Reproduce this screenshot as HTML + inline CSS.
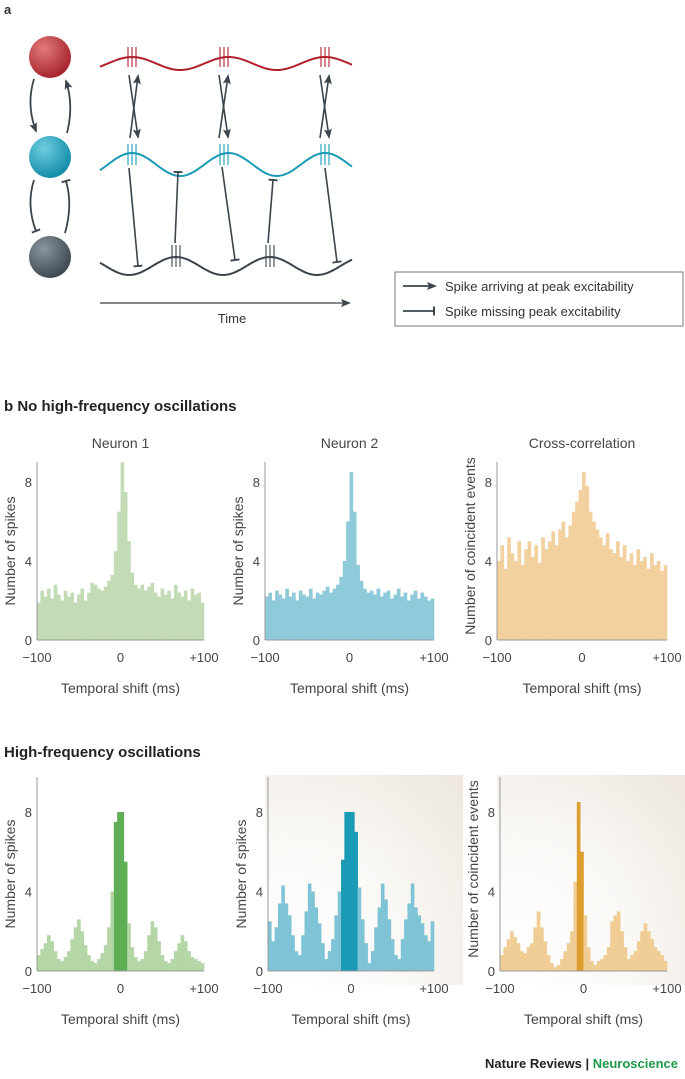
<!DOCTYPE html>
<html><head><meta charset="utf-8"><style>
html,body{margin:0;padding:0;background:#fff;}
svg{display:block;font-family:"Liberation Sans",sans-serif;}
</style></head><body>
<svg id="fig" width="685" height="1079" viewBox="0 0 685 1079">
<defs>
<radialGradient id="gr" cx="0.35" cy="0.3" r="0.75"><stop offset="0" stop-color="#e27a7a"/><stop offset="1" stop-color="#a3202a"/></radialGradient>
<radialGradient id="gc" cx="0.35" cy="0.3" r="0.75"><stop offset="0" stop-color="#6fcde0"/><stop offset="1" stop-color="#0f8aa6"/></radialGradient>
<radialGradient id="gk" cx="0.35" cy="0.3" r="0.75"><stop offset="0" stop-color="#8a969e"/><stop offset="1" stop-color="#3a454d"/></radialGradient>
<radialGradient id="bg" cx="0.1" cy="0.9" r="1.2"><stop offset="0" stop-color="#ffffff"/><stop offset="0.5" stop-color="#faf8f5"/><stop offset="1" stop-color="#ece6dd"/></radialGradient>
<marker id="ah" markerUnits="userSpaceOnUse" markerWidth="10" markerHeight="8" refX="8" refY="4" orient="auto"><path d="M0,0 L10,4 L0,8 L2,4z" fill="#3a454d"/></marker>
<marker id="tb" markerUnits="userSpaceOnUse" markerWidth="2" markerHeight="9" refX="1" refY="4.5" orient="auto"><rect x="0" y="0" width="2" height="9" fill="#3a454d"/></marker>
</defs>
<text x="4" y="14" font-size="13" font-weight="bold" fill="#333">a</text>
<g>
<circle cx="50" cy="57" r="21" fill="url(#gr)"/>
<circle cx="50" cy="157" r="21" fill="url(#gc)"/>
<circle cx="50" cy="257" r="21" fill="url(#gk)"/>
</g>
<g fill="none" stroke="#3a454d" stroke-width="1.8">
<path d="M34,79 Q26,105 36,131" marker-end="url(#ah)"/>
<path d="M67,133 Q74,105 66,81" marker-end="url(#ah)"/>
<path d="M34,180 Q26,205 36,231" marker-end="url(#tb)"/>
<path d="M65,233 Q73,205 66,181" marker-end="url(#tb)"/>
</g>
<g fill="none" stroke-width="2">
<path id="wr" stroke="#b0202c"/>
<path id="wc" stroke="#1a9ab5"/>
<path id="wk" stroke="#3a454d"/>
</g>
<g id="spk" stroke-width="1.1"></g>
<g fill="none" stroke="#3a454d" stroke-width="1.6">
<line x1="129" y1="75" x2="138" y2="137" marker-end="url(#ah)"/><line x1="130" y1="138" x2="138" y2="76" marker-end="url(#ah)"/>
<line x1="219" y1="75" x2="228" y2="137" marker-end="url(#ah)"/><line x1="219" y1="138" x2="228" y2="76" marker-end="url(#ah)"/>
<line x1="320" y1="75" x2="329" y2="137" marker-end="url(#ah)"/><line x1="320" y1="138" x2="329" y2="76" marker-end="url(#ah)"/>
<line x1="129" y1="168" x2="138" y2="266" marker-end="url(#tb)"/>
<line x1="175" y1="243" x2="178" y2="172" marker-end="url(#tb)"/>
<line x1="222" y1="167" x2="235" y2="260" marker-end="url(#tb)"/>
<line x1="268" y1="243" x2="273" y2="180" marker-end="url(#tb)"/>
<line x1="325" y1="168" x2="337" y2="262" marker-end="url(#tb)"/>
<line x1="100" y1="303" x2="349" y2="303" stroke-width="1.2" marker-end="url(#ah)"/>
</g>
<text x="232" y="323" font-size="13" fill="#333" text-anchor="middle">Time</text>
<g>
<rect x="395" y="272" width="288" height="54" fill="#fff" stroke="#777" stroke-width="1"/>
<line x1="403" y1="286" x2="435" y2="286" stroke="#3a454d" stroke-width="1.8" marker-end="url(#ah)"/>
<text x="445" y="291" font-size="13" fill="#333">Spike arriving at peak excitability</text>
<line x1="403" y1="311" x2="434" y2="311" stroke="#3a454d" stroke-width="1.8" marker-end="url(#tb)"/>
<text x="445" y="316" font-size="13" fill="#333">Spike missing peak excitability</text>
</g>
<text x="4" y="411" font-size="15" font-weight="bold" fill="#222">b  No high-frequency oscillations</text>
<text x="4" y="757" font-size="15" font-weight="bold" fill="#222">High-frequency oscillations</text>
<rect x="265" y="775" width="198" height="210" fill="url(#bg)" opacity="0.9"/>
<rect x="497" y="775" width="188" height="210" fill="url(#bg)" opacity="0.9"/>
<g id="charts"></g>
<text x="678" y="1068" font-size="13" font-weight="bold" text-anchor="end" fill="#222">Nature Reviews | <tspan fill="#1d9a4a">Neuroscience</tspan></text>
</svg>
<script>
const categoriesMs = [-100, 100];
const titles = ["Neuron 1", "Neuron 2", "Cross-correlation"];
const yTitles = ["Number of spikes", "Number of spikes", "Number of coincident events"];
const yTicks = [0, 4, 8];
const xTickLabels = ["\u2212100", "0", "+100"];
const topNeuron1 = [1.9,2.5,2.2,2.6,2.1,2.8,2.3,2.0,2.5,2.2,2.4,1.9,2.3,2.6,2.0,2.4,2.9,2.8,2.6,2.5,2.7,3.0,3.3,4.5,6.5,9.0,7.5,5.0,3.4,2.8,2.6,2.8,2.5,2.7,2.9,2.4,2.2,2.6,2.3,2.5,2.1,2.8,2.4,2.2,2.5,2.0,2.6,2.3,2.4,1.9];
const topNeuron2 = [2.2,2.4,2.0,2.5,2.3,2.1,2.6,2.2,2.4,2.0,2.5,2.3,2.2,2.6,2.1,2.4,2.3,2.5,2.7,2.4,2.6,2.8,3.2,4.0,6.0,8.5,6.5,3.8,3.0,2.6,2.4,2.5,2.3,2.6,2.2,2.4,2.5,2.1,2.3,2.6,2.2,2.4,2.0,2.3,2.5,2.1,2.4,2.2,2.0,2.1];
const topCross = [4.0,4.8,3.6,5.2,4.4,4.0,5.0,3.8,4.6,5.0,4.2,4.8,3.9,5.2,4.6,5.0,5.5,4.8,5.6,6.0,5.2,5.8,6.5,7.0,7.6,8.5,7.8,6.5,6.0,5.6,5.2,4.8,5.4,4.6,4.4,5.0,4.2,4.8,4.0,4.4,3.8,4.6,4.0,4.2,3.6,4.4,3.8,4.0,3.5,3.8];
const hfoNeuron1 = [0.8,1.1,1.4,1.8,1.5,1.0,0.6,0.5,0.7,1.0,1.6,2.2,2.6,2.0,1.3,0.8,0.5,0.4,0.6,0.9,1.3,2.2,4.0,7.5,8.0,8.0,5.5,2.4,1.2,0.7,0.5,0.6,1.0,1.8,2.5,2.2,1.5,0.8,0.5,0.4,0.6,1.0,1.4,1.8,1.5,1.0,0.7,0.6,0.5,0.4];
const hfoNeuron2 = [2.5,1.5,2.2,3.4,4.3,3.4,2.8,1.8,1.0,0.8,1.8,3.0,4.4,4.0,3.2,2.4,1.4,0.6,1.0,1.6,2.8,4.0,5.6,8.0,8.0,8.0,7.0,4.2,2.6,1.4,0.4,1.0,2.2,3.2,4.4,3.6,2.6,1.6,0.8,0.6,1.6,2.6,3.4,4.4,3.2,2.8,2.4,1.8,1.5,2.5];
const hfoCross = [0.8,1.2,1.6,2.0,1.7,1.4,1.0,0.9,1.2,1.4,2.2,3.0,2.2,1.5,0.8,0.4,0.2,0.3,0.6,1.0,1.4,2.0,4.5,8.5,6.0,2.8,1.2,0.5,0.3,0.5,0.6,0.8,1.2,2.5,2.8,3.0,2.0,1.2,0.6,0.8,1.0,1.5,2.0,2.4,2.0,1.6,1.2,1.0,0.8,0.5];

const NS = "http://www.w3.org/2000/svg";
function mk(tag, attrs, parent){const e=document.createElementNS(NS,tag);for(const k in attrs)e.setAttribute(k,attrs[k]);parent.appendChild(e);return e;}

function wave(id, y0, amp, phaseX, period){
  let d="";for(let x=100;x<=353;x+=2){const y=y0-amp*Math.cos(2*Math.PI*(x-phaseX)/period);d+=(x===100?"M":"L")+x+","+y.toFixed(1);}
  document.getElementById(id).setAttribute("d",d);
}
wave("wr",63.5,6.5,132,96.5);
wave("wc",164.5,11.5,132,96.5);
wave("wk",266,9,176,94);
const spk=document.getElementById("spk");
function ticks(xc,y1,y2,col){for(const dx of [-4,0,4]){const l=mk("line",{x1:xc+dx,x2:xc+dx,y1:y1,y2:y2,stroke:col},spk);

}}
[132,224,325].forEach(x=>ticks(x,47,67,"#b0202c"));
[132,224,325].forEach(x=>ticks(x,144,165,"#1a9ab5"));
[176,270].forEach(x=>ticks(x,245,267,"#3a454d"));

const panels=[
 {x0:37,x1:204,y0:640,yTop:462,y8:482,series:topNeuron1,col:"#c4dcb6",dark:"#c4dcb6",row:0,i:0},
 {x0:265,x1:434,y0:640,yTop:462,y8:482,series:topNeuron2,col:"#8ecad9",dark:"#8ecad9",row:0,i:1},
 {x0:497,x1:667,y0:640,yTop:462,y8:482,series:topCross,col:"#f2d19e",dark:"#f2d19e",row:0,i:2},
 {x0:37,x1:204,y0:971,yTop:777,y8:812,series:hfoNeuron1,col:"#b5d6a6",dark:"#5fae55",row:1,i:0},
 {x0:268,x1:434,y0:971,yTop:777,y8:812,series:hfoNeuron2,col:"#7ec4d6",dark:"#1a9ab5",row:1,i:1},
 {x0:500,x1:667,y0:971,yTop:777,y8:812,series:hfoCross,col:"#f0cd94",dark:"#dc9e2e",row:1,i:2}
];
const charts=document.getElementById("charts");
panels.forEach(p=>{
  const g=mk("g",{},charts);
  
  
  const yUnit=(p.y0-p.y8)/8;
  const ys=v=>p.y0-Math.min(v,(p.y0-p.yTop)/yUnit)*yUnit;
  const xs=t=>p.x0+(t-categoriesMs[0])/(categoriesMs[1]-categoriesMs[0])*(p.x1-p.x0);
  const n=p.series.length,bw=(categoriesMs[1]-categoriesMs[0])/n;
  p.series.forEach((v,k)=>{
    const xa=xs(categoriesMs[0]+k*bw),xb=xs(categoriesMs[0]+(k+1)*bw);
    const r=mk("rect",{x:xa.toFixed(2),y:ys(v).toFixed(2),width:(xb-xa+0.3).toFixed(2),height:(p.y0-ys(v)).toFixed(2),fill:v>4.5?p.dark:p.col},g);
    
    
  });
  mk("line",{x1:p.x0,x2:p.x0,y1:p.yTop,y2:p.y0,stroke:"#999","stroke-width":1},g);
  mk("line",{x1:p.x0,x2:p.x1,y1:p.y0,y2:p.y0,stroke:"#999","stroke-width":1},g);
  yTicks.forEach(t=>{
    const tx=mk("text",{x:p.x0-5,y:ys(t)+5,"font-size":13,"text-anchor":"end",fill:"#444"},g);tx.textContent=t;
    
    
  });
  [categoriesMs[0],0,categoriesMs[1]].forEach((t,k)=>{
    const tx=mk("text",{x:xs(t),y:p.y0+22,"font-size":13,"text-anchor":"middle",fill:"#444"},g);tx.textContent=xTickLabels[k];
    
    
  });
  const xt=mk("text",{x:(p.x0+p.x1)/2,y:p.y0+53,"font-size":14,"text-anchor":"middle",fill:"#444"},g);xt.textContent="Temporal shift (ms)";
  
  
  const cy=(p.yTop+p.y0)/2+(p.i===2?-5:0);
  const yt=mk("text",{x:0,y:0,"font-size":14,"text-anchor":"middle",fill:"#444",transform:`translate(${p.x0-22},${cy}) rotate(-90)`},g);yt.textContent=yTitles[p.i];
  
  
  if(p.row===0){
    const tt=mk("text",{x:(p.x0+p.x1)/2,y:448,"font-size":14,"text-anchor":"middle",fill:"#444"},g);tt.textContent=titles[p.i];
    
    
  }
});
</script>
</body></html>
